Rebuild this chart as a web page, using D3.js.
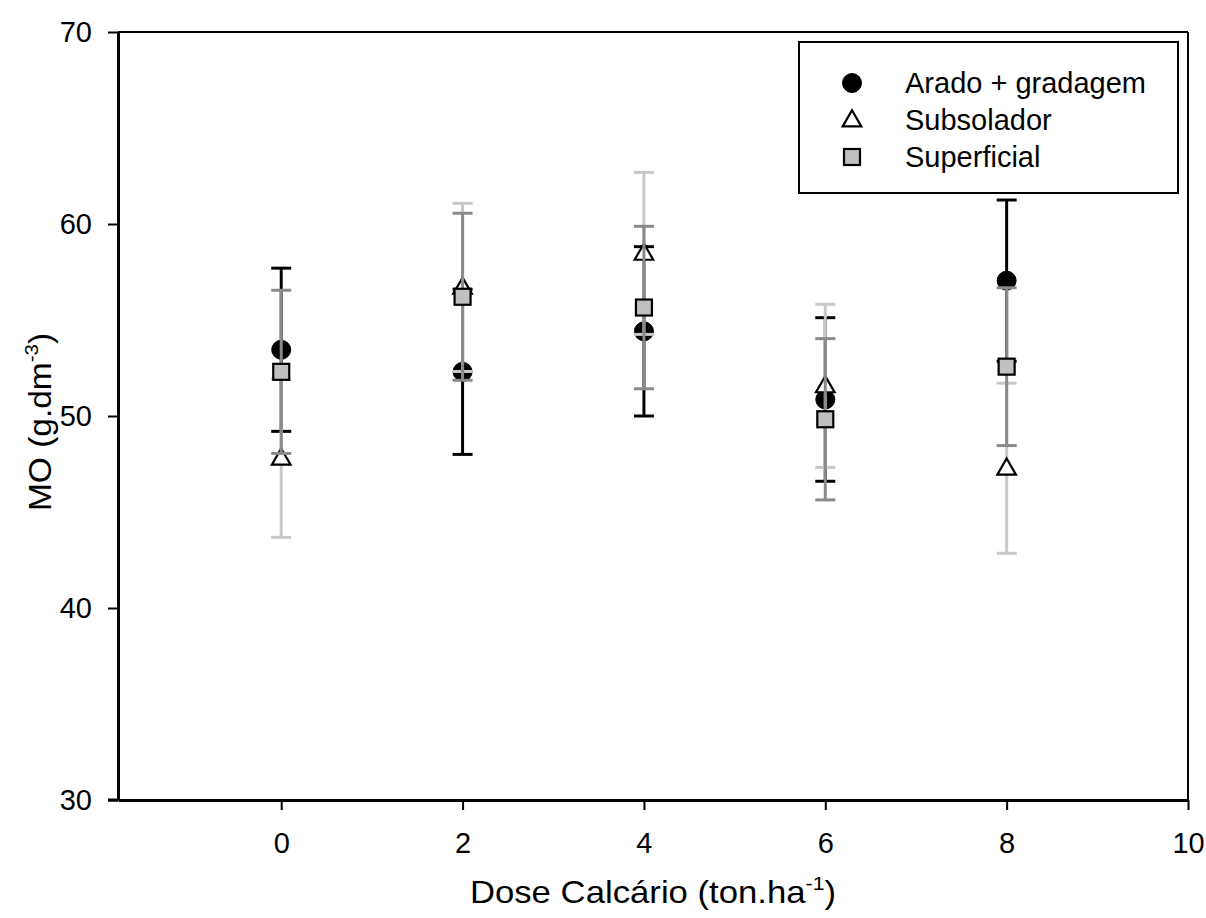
<!DOCTYPE html>
<html>
<head>
<meta charset="utf-8">
<script src="https://cdn.jsdelivr.net/npm/d3@7"></script>
<style>
  html, body { margin: 0; padding: 0; background: #fff; }
  svg { display: block; font-family: "Liberation Sans", Arial, sans-serif; }
</style>
</head>
<body>
<svg id="chart" width="1206" height="918"></svg>
<script>
// Lime dose levels (ton/ha)
const doses = [0, 2, 4, 6, 8];

// Mean organic matter (g/dm3) and error per tillage system
const aradoMean = [53.45, 52.3, 54.41, 50.86, 57.05];
const aradoErr  = [4.25, 4.3, 4.41, 4.26, 4.2];

const subsoladorMean = [47.8, 56.7, 58.47, 51.57, 47.28];
const subsoladorErr  = [4.12, 4.38, 4.22, 4.25, 4.43];

const superficialMean = [52.3, 56.21, 55.65, 49.83, 52.57];
const superficialErr  = [4.25, 4.35, 4.23, 4.2, 4.11];

const seriesNames = ["Arado + gradagem", "Subsolador", "Superficial"];

const xTicks = [0, 2, 4, 6, 8, 10];
const yTicks = [30, 40, 50, 60, 70];

const series = [
  { name: seriesNames[0], mean: aradoMean, err: aradoErr, symbol: "circle", bar: "#000000" },
  { name: seriesNames[1], mean: subsoladorMean, err: subsoladorErr, symbol: "triangle", bar: "#c8c8c8" },
  { name: seriesNames[2], mean: superficialMean, err: superficialErr, symbol: "square", bar: "#8a8a8a" }
];

const svg = d3.select("#chart");
const plotL = 118, plotR = 1188, plotT = 32, plotB = 800;

const x = d3.scaleLinear().domain([-1.8, 10]).range([plotL, plotR]);
const y = d3.scaleLinear().domain([30, 70]).range([plotB, plotT]);

// Frame: top and right edges
svg.append("line").attr("x1", plotL).attr("x2", plotR).attr("y1", plotT).attr("y2", plotT)
  .attr("stroke", "#000").attr("stroke-width", 2);
svg.append("line").attr("x1", plotR).attr("x2", plotR).attr("y1", plotT).attr("y2", plotB)
  .attr("stroke", "#000").attr("stroke-width", 2);

// Axes
const yAxis = svg.append("g").attr("transform", `translate(${plotL},0)`)
  .call(d3.axisLeft(y).tickValues(yTicks).tickSize(10).tickPadding(16).tickSizeOuter(0));
const xAxis = svg.append("g").attr("transform", `translate(0,${plotB})`)
  .call(d3.axisBottom(x).tickValues(xTicks).tickSize(10).tickPadding(22).tickSizeOuter(0));

[xAxis, yAxis].forEach(g => {
  g.select(".domain").attr("stroke", "#000").attr("stroke-width", 3);
  g.selectAll(".tick line").attr("stroke", "#000").attr("stroke-width", 2);
  g.selectAll(".tick text").attr("fill", "#000").style("font-size", "29px")
    .style("font-family", '"Liberation Sans", Arial, sans-serif');
});
// extend the bottom axis to meet the lowest y tick
svg.append("line").attr("x1", plotL - 10).attr("x2", plotL).attr("y1", plotB).attr("y2", plotB)
  .attr("stroke", "#000").attr("stroke-width", 3);

// Axis titles
const xt = svg.append("text").attr("transform", "translate(653,903) scale(1.12,1)")
  .attr("text-anchor", "middle").style("font-size", "31px").attr("fill", "#000");
xt.append("tspan").text("Dose Calcário (ton.ha");
xt.append("tspan").attr("dy", -13).style("font-size", "19px").text("-1");
xt.append("tspan").attr("dy", 13).text(")");

const yt = svg.append("text").attr("transform", "translate(51,422) rotate(-90) scale(1.08,1)")
  .attr("text-anchor", "middle").style("font-size", "31px").attr("fill", "#000");
yt.append("tspan").text("MO (g.dm");
yt.append("tspan").attr("dy", -13).style("font-size", "19px").text("-3");
yt.append("tspan").attr("dy", 13).text(")");

// Symbols
function drawSymbol(g, kind, cx, cy) {
  if (kind === "circle") {
    g.append("circle").attr("cx", cx).attr("cy", cy).attr("r", 9.5)
      .attr("fill", "#000").attr("stroke", "#000").attr("stroke-width", 1);
  } else if (kind === "triangle") {
    const s = d3.symbol().type(d3.symbolTriangle).size(150);
    g.append("path").attr("d", s()).attr("transform", `translate(${cx},${cy + 1})`)
      .attr("fill", "#fff").attr("stroke", "#000").attr("stroke-width", 2.2);
  } else {
    g.append("rect").attr("x", cx - 8).attr("y", cy - 8).attr("width", 16).attr("height", 16)
      .attr("fill", "#c0c0c0").attr("stroke", "#000").attr("stroke-width", 2.2);
  }
}

const capHalf = 10;
series.forEach(s => {
  const g = svg.append("g");
  doses.forEach((d, i) => {
    const cx = x(d);
    const hi = y(s.mean[i] + s.err[i]), lo = y(s.mean[i] - s.err[i]);
    g.append("line").attr("x1", cx).attr("x2", cx).attr("y1", hi).attr("y2", lo)
      .attr("stroke", s.bar).attr("stroke-width", 3);
    [hi, lo].forEach(yy => g.append("line").attr("x1", cx - capHalf).attr("x2", cx + capHalf)
      .attr("y1", yy).attr("y2", yy).attr("stroke", s.bar).attr("stroke-width", 3));
  });
  doses.forEach((d, i) => drawSymbol(g, s.symbol, x(d), y(s.mean[i])));
});

// Legend
const lg = svg.append("g");
lg.append("rect").attr("x", 799).attr("y", 42).attr("width", 379).attr("height", 151)
  .attr("fill", "#fff").attr("stroke", "#000").attr("stroke-width", 2);
series.forEach((s, i) => {
  const cy = 83 + i * 37;
  drawSymbol(lg, s.symbol, 852, cy);
  lg.append("text").attr("x", 905).attr("y", cy).attr("dy", "0.36em")
    .style("font-size", "29px").attr("fill", "#000").text(s.name);
});
</script>
</body>
</html>
